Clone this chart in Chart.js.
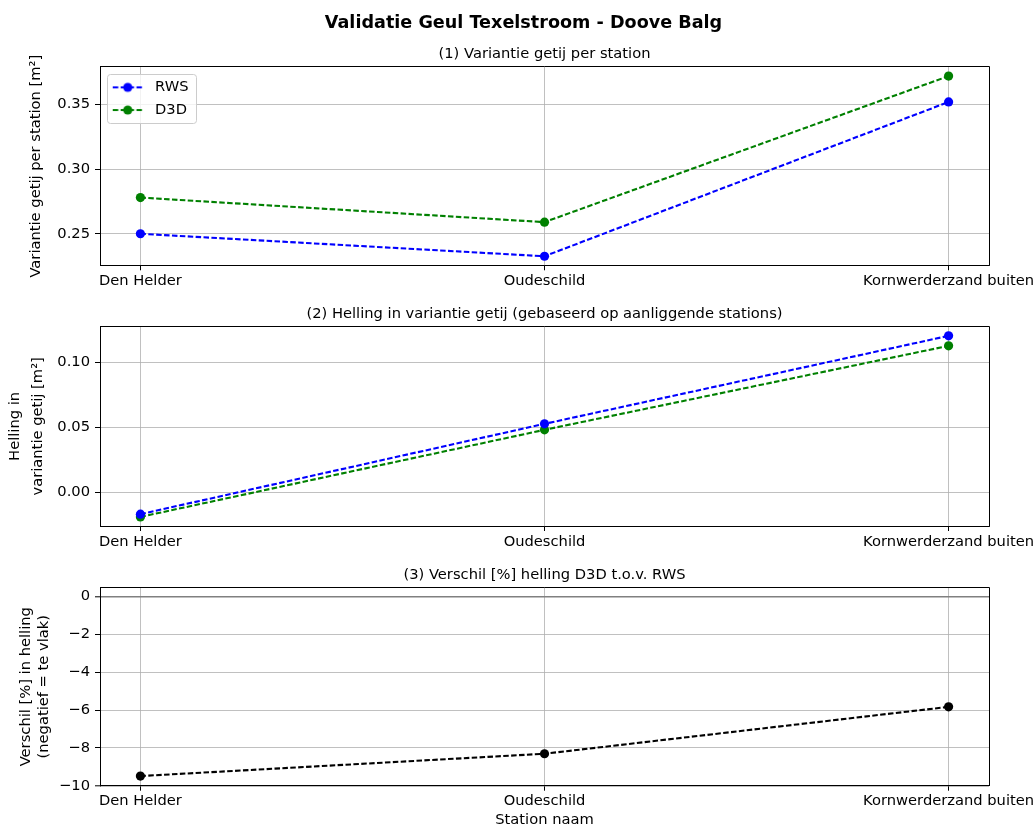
<!DOCTYPE html>
<html>
<head>
<meta charset="utf-8">
<script src="https://cdn.jsdelivr.net/npm/chart.js@4.4.0/dist/chart.umd.min.js"></script>
<style>
html,body{margin:0;padding:0;background:#ffffff;}
#wrap{position:relative;width:1034px;height:829px;overflow:hidden;}
#wrap canvas{position:absolute;left:0;top:0;}
</style>
</head>
<body>
<div id="wrap">
<canvas id="c1" width="1034" height="829"></canvas>
<canvas id="c2" width="1034" height="829"></canvas>
<canvas id="c3" width="1034" height="829"></canvas>
</div>
<script>
// ---------- data ----------
const stations = ['Den Helder', 'Oudeschild', 'Kornwerderzand buiten'];
const stationPos = [0, 1, 2];

const rwsVariantie = [0.250, 0.2326, 0.352];
const d3dVariantie = [0.278, 0.259, 0.372];

const rwsHelling = [-0.0167, 0.0528, 0.1205];
const d3dHelling = [-0.0188, 0.0482, 0.1128];

const verschilHelling = [-9.49, -8.31, -5.83];

const yTicks1 = [0.25, 0.30, 0.35];
const yTicks2 = [0.00, 0.05, 0.10];
const yTicks3 = [-10, -8, -6, -4, -2, 0];

const seriesNames = ['RWS', 'D3D'];

// ---------- helpers ----------
const FONT = "'DejaVu Sans', 'Liberation Sans', sans-serif";
const FS = 14.7;
Chart.defaults.font.family = FONT;
Chart.defaults.font.size = FS;
Chart.defaults.color = '#000000';

const toXY = arr => arr.map((v, i) => ({x: stationPos[i], y: v}));
const minusFmt = v => (v < 0 ? '\u2212' + Math.abs(v) : String(v));

function lineDataset(label, values, color) {
  return {
    label: label,
    data: toXY(values),
    borderColor: color,
    backgroundColor: color,
    borderWidth: 2.1,
    borderDash: [5.5, 2.4],
    pointRadius: 4.6,
    pointHoverRadius: 4.6,
    pointBackgroundColor: color,
    pointBorderWidth: 0,
    tension: 0,
    fill: false
  };
}

function xScale(height, title) {
  const cfg = {
    type: 'linear',
    min: -0.1,
    max: 2.1,
    afterBuildTicks: s => { s.ticks = stationPos.map(v => ({value: v})); },
    ticks: {
      callback: v => stations[v] !== undefined ? stations[v] : '',
      autoSkip: false, maxRotation: 0, minRotation: 0,
      padding: 2, color: '#000', font: {size: FS}
    },
    grid: {color: '#b0b0b0', lineWidth: 0.8, tickLength: 5, tickColor: '#000', tickWidth: 1},
    border: {display: true, color: '#000', width: 1},
    afterFit: s => { s.height = height; s.paddingLeft = 0; s.paddingRight = 0; }
  };
  if (title) {
    cfg.title = {display: true, text: title, color: '#000', font: {size: FS, lineHeight: 1.2}, padding: {top: 0, bottom: 0}};
  }
  return cfg;
}

function yScale(o) {
  return {
    type: 'linear',
    position: 'left',
    min: o.min,
    max: o.max,
    afterBuildTicks: s => { s.ticks = o.ticks.map(v => ({value: v})); },
    ticks: {callback: v => o.fmt(v), padding: 5, color: '#000', font: {size: FS}},
    grid: {
      color: o.gridColor || '#b0b0b0',
      lineWidth: o.gridWidth || 0.8,
      tickLength: 5, tickColor: '#000', tickWidth: 1
    },
    border: {display: true, color: '#000', width: 1},
    title: {display: true, text: o.title, color: '#000', font: {size: FS, lineHeight: o.lh}, padding: {top: o.tp, bottom: 0}},
    afterFit: s => { s.width = o.width || 100; s.paddingTop = 0; s.paddingBottom = 0; }
  };
}

// empty right-hand axis used only to reserve the right margin
const rightSpacer = {
  type: 'linear',
  position: 'right',
  display: true,
  ticks: {display: false},
  grid: {display: false, drawTicks: false},
  border: {display: false},
  afterFit: s => { s.width = 45; s.paddingTop = 0; s.paddingBottom = 0; }
};

// top/right spines
const spinePlugin = {
  id: 'spines',
  afterDraw(chart) {
    const {ctx, chartArea: a} = chart;
    ctx.save();
    ctx.strokeStyle = '#000';
    ctx.lineWidth = 1;
    const top = Math.round(a.top) - 0.5;
    const right = Math.round(a.right) + 0.5;
    ctx.beginPath();
    ctx.moveTo(Math.round(a.left), top);
    ctx.lineTo(right, top);
    ctx.lineTo(right, Math.round(a.bottom));
    ctx.stroke();
    ctx.restore();
  }
};

function legendSymbol(color) {
  const c = document.createElement('canvas');
  c.width = 40; c.height = 12;
  const g = c.getContext('2d');
  g.strokeStyle = color; g.lineWidth = 2.1; g.setLineDash([5.5, 2.4]);
  g.beginPath(); g.moveTo(5, 6); g.lineTo(35, 6); g.stroke();
  g.setLineDash([]);
  g.fillStyle = color;
  g.beginPath(); g.arc(20, 6, 4.6, 0, Math.PI * 2); g.fill();
  return c;
}
const legendSymbols = [legendSymbol('#0000ff'), legendSymbol('#008000')];

// legend inside the axes, with matplotlib-like frame
const legendFramePlugin = {
  id: 'legendFrame',
  afterLayout(chart) {
    const lg = chart.legend;
    if (!lg) return;
    const a = chart.chartArea;
    lg.left = a.left - 0.3;
    lg.right = a.right;
    lg.top = a.top + 4.95;
    lg.bottom = a.bottom;
    if (!lg._origDraw) {
      lg._origDraw = lg.draw;
      lg.draw = function () {};
    }
  },
  afterDraw(chart) {
    const lg = chart.legend;
    if (!lg || !lg.legendHitBoxes || !lg.legendHitBoxes.length) return;
    const hb = lg.legendHitBoxes;
    const l = Math.min(...hb.map(h => h.left)) - 0.7;
    const t = hb[0].top - 5.6;
    const r = Math.max(...hb.map(h => h.left + h.width)) + 7;
    const b = hb[hb.length - 1].top + FS + 5.7;
    const ctx = chart.ctx;
    ctx.save();
    ctx.beginPath();
    ctx.roundRect(Math.round(l) + 0.5, Math.round(t) + 0.5, Math.round(r - l), Math.round(b - t), 3);
    ctx.fillStyle = 'rgba(255,255,255,0.8)';
    ctx.fill();
    ctx.strokeStyle = '#cccccc';
    ctx.lineWidth = 1;
    ctx.stroke();
    ctx.restore();
    lg._origDraw.call(lg);
  }
};

const baseOpts = {
  responsive: false,
  maintainAspectRatio: false,
  animation: false,
  devicePixelRatio: 1,
  events: []
};

// ---------- chart 1 ----------
new Chart(document.getElementById('c1'), {
  type: 'line',
  data: {
    datasets: [
      lineDataset(seriesNames[0], rwsVariantie, '#0000ff'),
      lineDataset(seriesNames[1], d3dVariantie, '#008000')
    ]
  },
  options: Object.assign({}, baseOpts, {
    layout: {padding: {left: 13, right: 0, top: 0, bottom: 528.7}},
    scales: {
      x: xScale(35),
      y: yScale({min: 0.2256, max: 0.3790, ticks: yTicks1, fmt: v => v.toFixed(2), width: 87,
                 title: 'Variantie getij per station [m\u00B2]', lh: 1.2, tp: 14.7}),
      yr: rightSpacer
    },
    plugins: {
      title: {display: true, fullSize: true, text: 'Validatie Geul Texelstroom - Doove Balg', color: '#000',
              font: {size: 17.6, weight: 'bold', lineHeight: 1.2}, padding: {top: 12.4, bottom: 11.7}},
      subtitle: {display: true, fullSize: false, text: '(1) Variantie getij per station', color: '#000',
                 font: {size: FS, lineHeight: 1.2}, padding: {top: 0, bottom: 4.2}},
      legend: {
        display: true, position: 'chartArea', align: 'start',
        labels: {
          usePointStyle: true, pointStyleWidth: 40, padding: 8, color: '#000',
          font: {size: FS},
          generateLabels: chart => Chart.defaults.plugins.legend.labels.generateLabels(chart)
            .map((it, i) => Object.assign(it, {pointStyle: legendSymbols[i]}))
        }
      },
      tooltip: {enabled: false}
    }
  }),
  plugins: [spinePlugin, legendFramePlugin]
});

// ---------- chart 2 ----------
new Chart(document.getElementById('c2'), {
  type: 'line',
  data: {
    datasets: [
      lineDataset(seriesNames[0], rwsHelling, '#0000ff'),
      lineDataset(seriesNames[1], d3dHelling, '#008000')
    ]
  },
  options: Object.assign({}, baseOpts, {
    layout: {padding: {left: 0, right: 0, top: 304.9, bottom: 268}},
    scales: {
      x: xScale(35),
      y: yScale({min: -0.0258, max: 0.1275, ticks: yTicks2, fmt: v => v.toFixed(2),
                 title: ['Helling in', 'variantie getij [m\u00B2]'], lh: 1.537, tp: 4.0}),
      yr: rightSpacer
    },
    plugins: {
      title: {display: true, fullSize: false, text: '(2) Helling in variantie getij (gebaseerd op aanliggende stations)', color: '#000',
              font: {size: FS, lineHeight: 1.2, weight: 'normal'}, padding: {top: 0, bottom: 4.2}},
      legend: {display: false},
      tooltip: {enabled: false}
    }
  }),
  plugins: [spinePlugin]
});

// ---------- chart 3 ----------
new Chart(document.getElementById('c3'), {
  type: 'line',
  data: {
    datasets: [
      lineDataset('Verschil', verschilHelling, '#000000')
    ]
  },
  options: Object.assign({}, baseOpts, {
    layout: {padding: {left: 0, right: 0, top: 565.9, bottom: 0}},
    scales: {
      x: xScale(43.3, 'Station naam'),
      y: yScale({min: -10, max: 0.47, ticks: yTicks3, fmt: minusFmt,
                 title: ['Verschil [%] in helling', '(negatief = te vlak)'], lh: 1.177, tp: 17.8,
                 gridColor: c => (c.tick && (c.tick.value === 0 || c.tick.value === -10)) ? '#808080' : '#b0b0b0',
                 gridWidth: c => (c.tick && (c.tick.value === 0 || c.tick.value === -10)) ? 1.6 : 0.8}),
      yr: rightSpacer
    },
    plugins: {
      title: {display: true, fullSize: false, text: '(3) Verschil [%] helling D3D t.o.v. RWS', color: '#000',
              font: {size: FS, lineHeight: 1.2, weight: 'normal'}, padding: {top: 0, bottom: 4.2}},
      legend: {display: false},
      tooltip: {enabled: false}
    }
  }),
  plugins: [spinePlugin]
});
</script>
</body>
</html>
